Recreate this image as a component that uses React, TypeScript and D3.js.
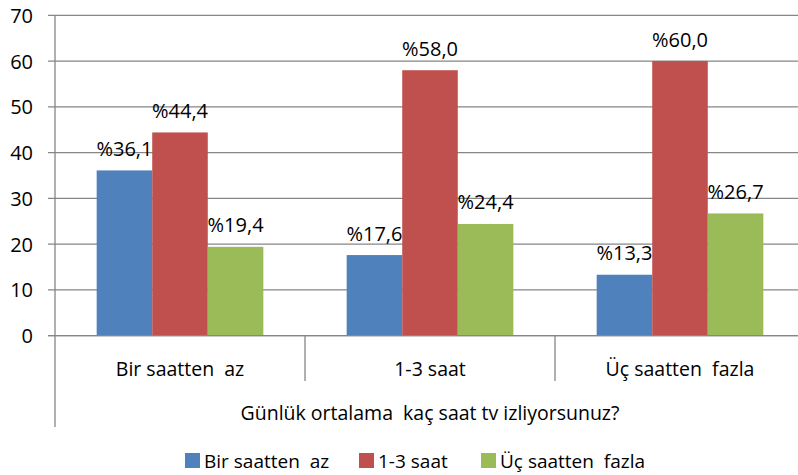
import React from "react";
import * as d3 from "d3";

const categories = ["Bir saatten  az", "1-3 saat", "Üç saatten  fazla"];
const seriesNames = ["Bir saatten  az", "1-3 saat", "Üç saatten  fazla"];
const seriesColors = ["#4F81BD", "#C0504D", "#9BBB59"];
const valuesBirSaattenAz = [36.1, 17.6, 13.3];
const values13Saat = [44.4, 58.0, 60.0];
const valuesUcSaattenFazla = [19.4, 24.4, 26.7];
const yTicks = [0, 10, 20, 30, 40, 50, 60, 70];
const axisTitle = "Günlük ortalama  kaç saat tv izliyorsunuz?";

const seriesValues = [valuesBirSaattenAz, values13Saat, valuesUcSaattenFazla];

const W = 798;
const H = 475;
const FONT = "'Open Sans', 'Noto Sans', sans-serif";

export default function App() {
  const x0 = d3.scaleBand<string>().domain(categories).range([55, 805]).paddingInner(0).paddingOuter(0);
  const x1 = d3
    .scaleBand<string>()
    .domain(seriesNames)
    .range([0, x0.bandwidth()])
    .paddingInner(0)
    .paddingOuter(0.75);
  const y = d3.scaleLinear().domain([0, 70]).range([335.6, 15.3]);
  const fmt = (v: number) => "%" + v.toFixed(1).replace(".", ",");
  const grid = "#868686";

  const legendItems = [
    { x: 185, name: seriesNames[0] },
    { x: 359, name: seriesNames[1] },
    { x: 481, name: seriesNames[2] },
  ];

  return (
    <svg
      width={W}
      height={H}
      style={{ position: "absolute", left: 0, top: 0, background: "#fff" }}
      fontFamily={FONT}
    >
      {/* gridlines */}
      {yTicks.map((t) => (
        <line key={"g" + t} x1={48} x2={W} y1={y(t)} y2={y(t)} stroke={grid} strokeWidth={1.3} />
      ))}
      {/* y tick labels */}
      {yTicks.map((t) => (
        <text
          key={"t" + t}
          x={33}
          y={y(t)}
          textAnchor="end"
          dominantBaseline="central"
          fontSize={20}
          fill="#000"
        >
          {t}
        </text>
      ))}
      {/* bars */}
      {categories.map((c, ci) =>
        seriesNames.map((s, si) => {
          const v = seriesValues[si][ci];
          const bx = (x0(c) as number) + (x1(s) as number);
          return (
            <rect
              key={c + s}
              x={bx}
              y={y(v)}
              width={x1.bandwidth()}
              height={y(0) - y(v)}
              fill={seriesColors[si]}
            />
          );
        })
      )}
      {/* x axis baseline on top of bars */}
      <line x1={48} x2={W} y1={y(0)} y2={y(0)} stroke={grid} strokeWidth={1.3} />
      {/* y axis */}
      <line x1={55} x2={55} y1={y(70)} y2={427} stroke={grid} strokeWidth={1.3} />
      {/* category separators */}
      {categories.slice(1).map((c) => (
        <line
          key={"sep" + c}
          x1={x0(c) as number}
          x2={x0(c) as number}
          y1={y(0)}
          y2={381}
          stroke={grid}
          strokeWidth={1.3}
        />
      ))}
      {/* data labels */}
      {categories.map((c, ci) =>
        seriesNames.map((s, si) => {
          const v = seriesValues[si][ci];
          const cx = (x0(c) as number) + (x1(s) as number) + x1.bandwidth() / 2;
          return (
            <text
              key={"l" + c + s}
              x={cx}
              y={y(v) - 22}
              textAnchor="middle"
              dominantBaseline="central"
              fontSize={20}
              fill="#000"
            >
              {fmt(v)}
            </text>
          );
        })
      )}
      {/* category labels */}
      {categories.map((c) => (
        <text
          key={"c" + c}
          x={(x0(c) as number) + x0.bandwidth() / 2}
          y={368}
          textAnchor="middle"
          dominantBaseline="central"
          fontSize={19.5}
          fill="#000"
          style={{ whiteSpace: "pre" }}
        >
          {c}
        </text>
      ))}
      {/* axis title */}
      <text
        x={430}
        y={412}
        textAnchor="middle"
        dominantBaseline="central"
        fontSize={19.5}
        fill="#000"
        style={{ whiteSpace: "pre" }}
      >
        {axisTitle}
      </text>
      {/* legend */}
      {legendItems.map((it, i) => (
        <g key={"lg" + i}>
          <rect x={it.x} y={453} width={15} height={15} fill={seriesColors[i]} />
          <text
            x={it.x + 19}
            y={461}
            dominantBaseline="central"
            fontSize={19}
            fill="#000"
            style={{ whiteSpace: "pre" }}
          >
            {it.name}
          </text>
        </g>
      ))}
    </svg>
  );
}
